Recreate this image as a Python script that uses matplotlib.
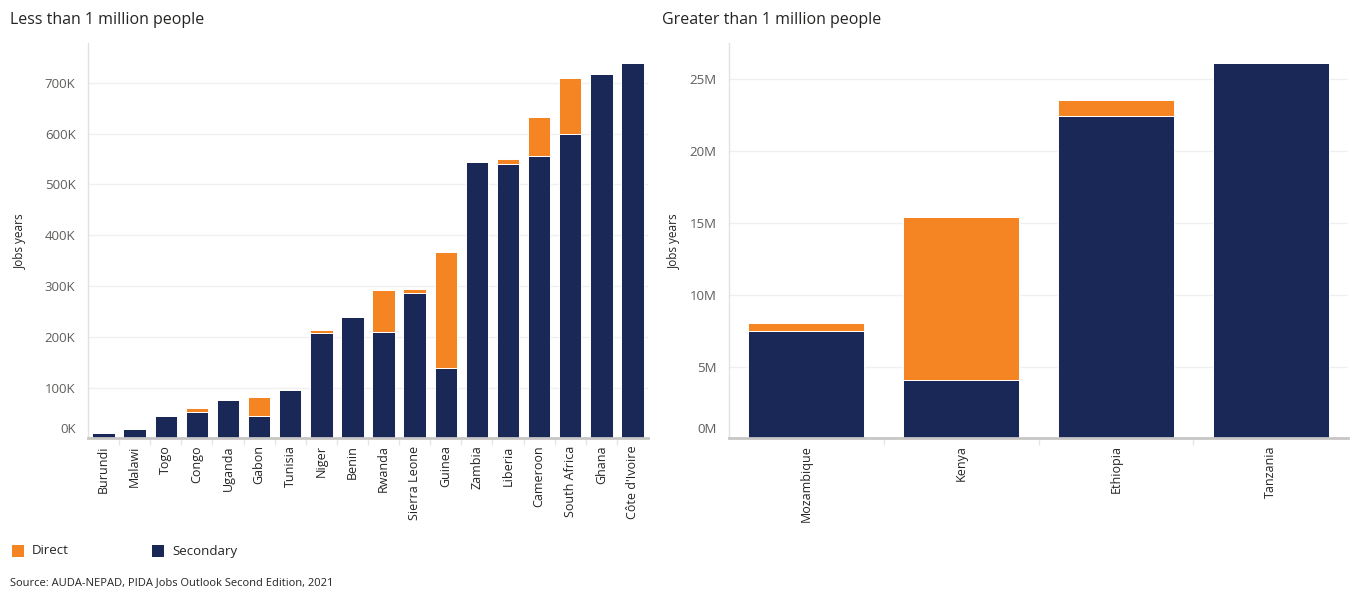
import matplotlib
matplotlib.use("Agg")
import matplotlib.pyplot as plt
import matplotlib.transforms as mtransforms
from matplotlib.ticker import FuncFormatter, FixedLocator
from matplotlib.patches import Rectangle

plt.rcParams['font.family'] = ['Open Sans', 'DejaVu Sans']

# ---------------- data ----------------
small_countries = ["Burundi", "Malawi", "Togo", "Congo", "Uganda", "Gabon", "Tunisia",
                   "Niger", "Benin", "Rwanda", "Sierra Leone", "Guinea", "Zambia",
                   "Liberia", "Cameroon", "South Africa", "Ghana", "Côte d'Ivoire"]
small_secondary = [11, 19, 44, 53, 76, 44, 95, 207, 240, 209, 286, 139, 543, 540, 556, 600, 717, 738]  # thousands
small_direct = [0, 0, 0, 7, 0, 37, 0, 7, 0, 84, 9, 228, 0, 9, 76, 110, 0, 0]  # thousands

large_countries = ["Mozambique", "Kenya", "Ethiopia", "Tanzania"]
large_secondary = [7.5, 4.05, 22.45, 26.1]  # millions
large_direct = [0.55, 11.35, 1.1, 0.0]  # millions

left_ticks = [0, 100, 200, 300, 400, 500, 600, 700]
right_ticks = [0, 5, 10, 15, 20, 25]

NAVY = "#1A2857"
ORANGE = "#F58423"
TXT = "#252423"
TICK = "#605E5C"

fig = plt.figure(figsize=(13.54, 5.92), dpi=100)

def style_axes(ax, ticks, fmt, ymax, ncat):
    ax.set_ylim(0, ymax)
    ax.set_xlim(-0.5, ncat - 0.5)
    ax.yaxis.set_major_locator(FixedLocator(ticks))
    ax.yaxis.set_major_formatter(FuncFormatter(fmt))
    ax.grid(axis='y', color='#F0F0F0', linewidth=1)
    ax.set_axisbelow(True)
    for s in ['top', 'right']:
        ax.spines[s].set_visible(False)
    ax.spines['left'].set_color('#E1E1E1')
    ax.spines['left'].set_linewidth(1)
    ax.spines['bottom'].set_color('#C8C6C4')
    ax.spines['bottom'].set_linewidth(2)
    ax.tick_params(axis='y', length=0, pad=9, labelsize=9.5, labelcolor=TICK)
    ax.tick_params(axis='x', which='major', length=0, pad=5, labelsize=9, labelcolor=TXT)
    ax.set_xticks([i + 0.5 for i in range(ncat - 1)], minor=True)
    ax.tick_params(axis='x', which='minor', length=5, color='#E6E6E6', width=1)
    ax.set_ylabel("Jobs years", fontsize=8.5, color=TXT)
    # shift the 0 label up like the reference
    fig.canvas.draw()
    lab = ax.get_yticklabels()[0]
    lab.set_transform(lab.get_transform() + mtransforms.ScaledTranslation(0, 10/100, fig.dpi_scale_trans))

# left chart
ax1 = fig.add_axes([0.065, 0.2593, 0.4136, 0.668])
x1 = range(len(small_countries))
ax1.bar(x1, small_secondary, width=0.72, color=NAVY, edgecolor='white', linewidth=0.7)
ax1.bar(x1, small_direct, width=0.72, bottom=small_secondary, color=ORANGE, edgecolor='white', linewidth=0.7)
ax1.set_xticks(list(x1))
ax1.set_xticklabels(small_countries, rotation=90, va='top', ha='center')
style_axes(ax1, left_ticks, lambda v, p: f"{int(v)}K", 778, len(small_countries))
ax1.yaxis.set_label_coords(-0.109, 0.5)

# right chart
ax2 = fig.add_axes([0.5384, 0.2593, 0.4572, 0.668])
x2 = range(len(large_countries))
ax2.bar(x2, large_secondary, width=0.75, color=NAVY, edgecolor='white', linewidth=0.7)
ax2.bar(x2, large_direct, width=0.75, bottom=large_secondary, color=ORANGE, edgecolor='white', linewidth=0.7)
ax2.set_xticks(list(x2))
ax2.set_xticklabels(large_countries, rotation=90, va='top', ha='center')
style_axes(ax2, right_ticks, lambda v, p: f"{int(v)}M", 27.5, len(large_countries))
ax2.yaxis.set_label_coords(-0.077, 0.5)

# titles
fig.text(10/1354, 1 - 20/592, "Less than 1 million people", fontsize=11.5, color=TXT, va='center', ha='left')
fig.text(662/1354, 1 - 20/592, "Greater than 1 million people", fontsize=11.5, color=TXT, va='center', ha='left')

# legend
for xs, col, lab, xt in [(12, ORANGE, "Direct", 32), (152, NAVY, "Secondary", 172)]:
    fig.patches.append(Rectangle((xs/1354, 1 - 557/592), 12/1354, 12/592, transform=fig.transFigure,
                                 facecolor=col, edgecolor='none'))
    fig.text(xt/1354, 1 - 551/592, lab, fontsize=9.5, color=TXT, va='center', ha='left')

fig.text(10/1354, 1 - 583/592, "Source: AUDA-NEPAD, PIDA Jobs Outlook Second Edition, 2021",
         fontsize=8, color=TXT, va='center', ha='left')

fig.savefig("out.png", dpi=100)
